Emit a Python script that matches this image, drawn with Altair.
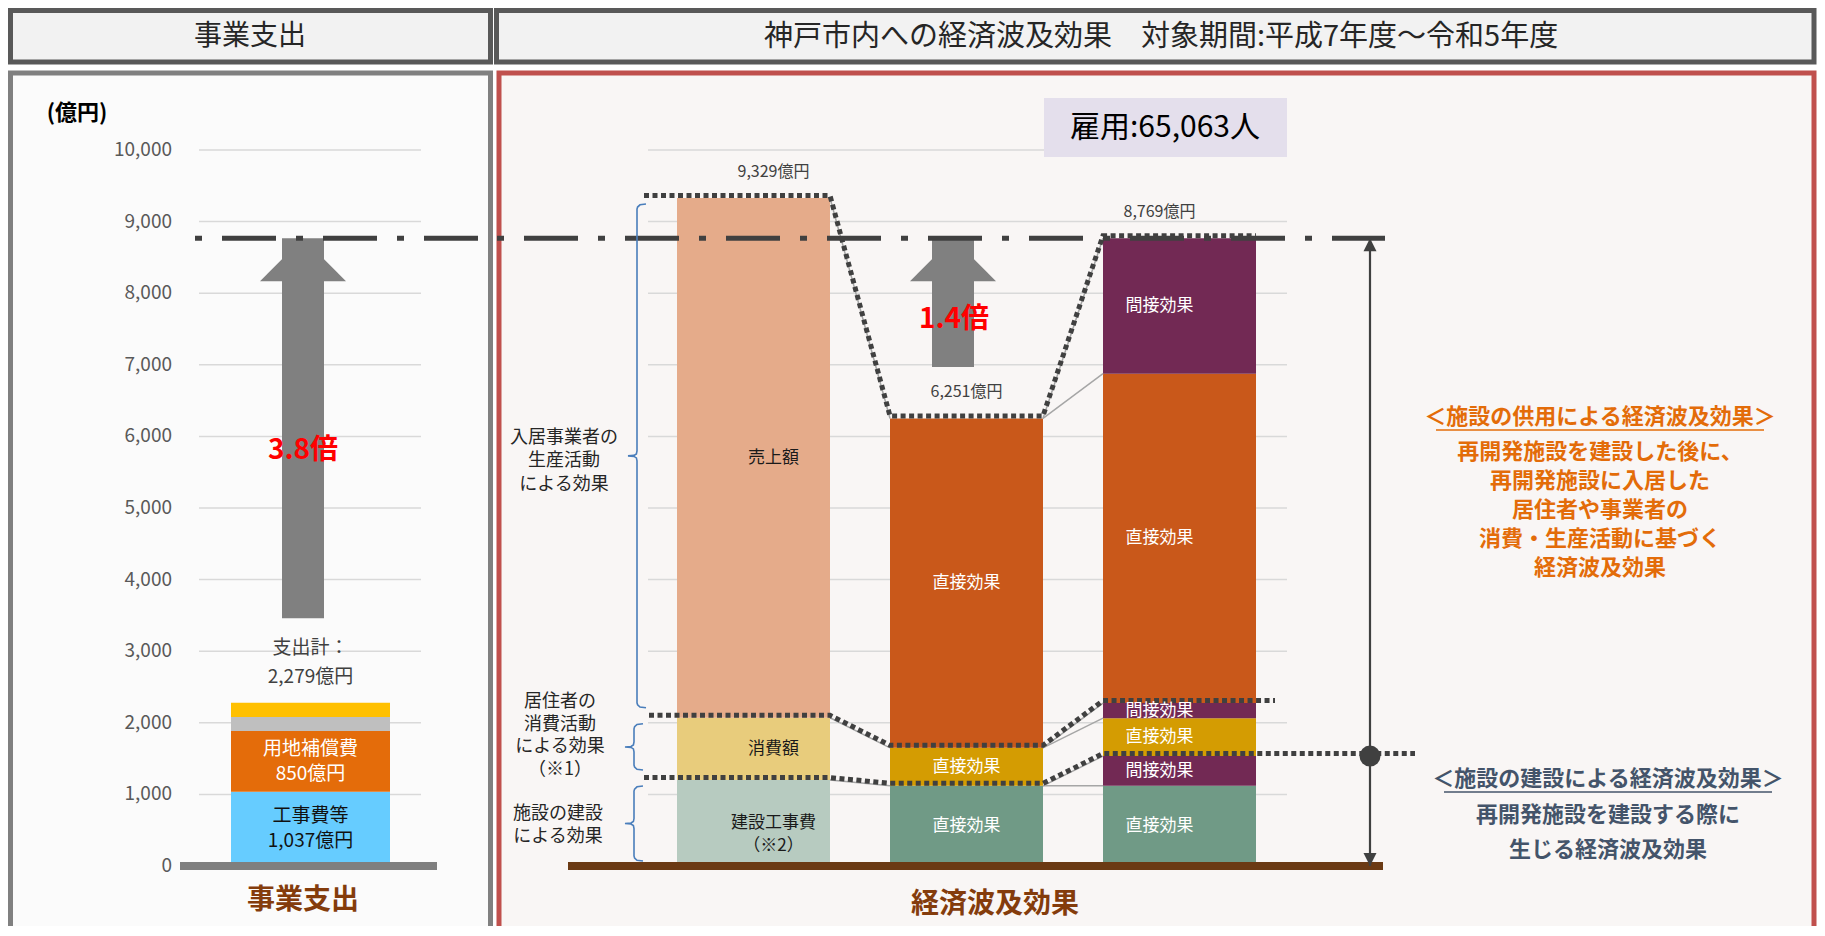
import altair as alt
import pandas as pd

FONT = "Noto Sans CJK JP"

# ------------------------------------------------------------------ data
y_ticks = [0, 1000, 2000, 3000, 4000, 5000, 6000, 7000, 8000, 9000, 10000]

left_category = ["事業支出"]
left_segments = ["工事費等", "用地補償費", "その他A", "その他B"]
left_values = [1037, 850, 194, 198]
left_colors = ["#66CCFF", "#E46C0A", "#BFBFBF", "#FFC000"]
left_labels = ["工事費等\n1,037億円", "用地補償費\n850億円", "", ""]
left_label_colors = ["#111111", "#FFFFFF", "#FFFFFF", "#FFFFFF"]
left_total_text = "支出計：\n2,279億円"

effect_categories = ["生産額", "直接効果", "直接効果＋間接効果"]
bar1_segments = ["建設工事費\n（※2）", "消費額", "売上額"]
bar1_values = [1200, 870, 7259]
bar1_colors = ["#B7CBC0", "#E8CC7C", "#E5AB8A"]
bar1_label_colors = ["#1A1A1A", "#1A1A1A", "#1A1A1A"]
bar2_segments = ["直接効果", "直接効果", "直接効果"]
bar2_values = [1120, 530, 4601]
bar2_colors = ["#709A86", "#D49C02", "#C9581A"]
bar2_label_colors = ["#FFFFFF", "#FFFFFF", "#FFFFFF"]
bar3_segments = ["直接効果", "間接効果", "直接効果", "間接効果", "直接効果", "間接効果"]
bar3_values = [1120, 415, 530, 210, 4601, 1893]
bar3_colors = ["#709A86", "#722954", "#D49C02", "#722954", "#C9581A", "#722954"]
bar3_label_colors = ["#FFFFFF"] * 6
total_labels = ["9,329億円", "6,251億円", "8,769億円"]

employment_text = "雇用:65,063人"
multiplier_texts = ["3.8倍", "1.4倍"]

# ------------------------------------------------------------------ layout helpers
X0, Y0 = 8, 8
W, H = 1809, 918
K = 0.0716             # px per 億円
ZERO_C = 866 - Y0      # chart y of value 0
YS = alt.Scale(domain=[-(H - ZERO_C) / K, ZERO_C / K], nice=False, zero=False)
XID = alt.Scale(domain=[0, W], range=[0, W], nice=False, zero=False)


def px(x):
    return x - X0


def py(y):
    return y - Y0


one = pd.DataFrame({"a": [1]})
layers = []


def box(x1, y1, x2, y2, fill, stroke=None, sw=0):
    kw = dict(fill=fill)
    if stroke:
        kw.update(stroke=stroke, strokeWidth=sw)
    return alt.Chart(one).mark_rect(**kw).encode(
        x=alt.value(px(x1)), x2=alt.value(px(x2)),
        y=alt.value(py(y1)), y2=alt.value(py(y2)))


def txt(text, x, y, size, color="#262626", weight="normal", align="center", lh=None):
    """y is the vertical centre of the whole text block."""
    lh = lh or size * 1.25
    n = text.count("\n") + 1
    y_first = y - (n - 1) / 2 * lh
    return alt.Chart(one).mark_text(
        text=text, font=FONT, fontSize=size, color=color, fontWeight=weight,
        align=align, baseline="middle", lineBreak="\n", lineHeight=lh
    ).encode(x=alt.value(px(x)), y=alt.value(py(y_first)))


def hrule(v, x1, x2, color, sw, dash=None):
    kw = dict(color=color, strokeWidth=sw, strokeCap="butt")
    if dash:
        kw["strokeDash"] = dash
    return alt.Chart(pd.DataFrame({"v": [v]})).mark_rule(**kw).encode(
        y=alt.Y("v:Q", scale=YS, axis=None),
        x=alt.value(px(x1)), x2=alt.value(px(x2)))


# ------------------------------------------------------------------ panels
layers.append(box(10.5, 73, 490.5, 990, "#FBFBFB", "#808080", 5))
layers.append(box(499, 73, 1814, 990, "#F9F6F5", "#C0504D", 5))
layers.append(box(10.5, 10.5, 490.5, 62, "#F2F2F2", "#595959", 5))
layers.append(box(496.5, 10.5, 1814, 62, "#F2F2F2", "#595959", 5))
layers.append(txt("事業支出", 250, 37, 28))
layers.append(txt("神戸市内への経済波及効果　対象期間:平成7年度～令和5年度", 1161, 37, 29))

# gridlines
grid_df = pd.DataFrame({"v": y_ticks[1:]})
for gx1, gx2 in [(199, 421), (648, 1287)]:
    layers.append(alt.Chart(grid_df).mark_rule(color="#D9D9D9", strokeWidth=1.5).encode(
        y=alt.Y("v:Q", scale=YS, axis=None), x=alt.value(px(gx1)), x2=alt.value(px(gx2))))

# y tick labels + unit
tick_df = pd.DataFrame({"v": y_ticks, "lab": [f"{t:,}" for t in y_ticks]})
layers.append(alt.Chart(tick_df).mark_text(
    align="right", baseline="middle", font=FONT, fontSize=19, color="#595959").encode(
    y=alt.Y("v:Q", scale=YS, axis=None), x=alt.value(px(172)), text="lab:N"))
layers.append(txt("(億円)", 77, 113, 22, "#000000", "bold"))

# employment box
layers.append(box(1044, 98, 1287, 157, "#E4DFEC"))
layers.append(txt(employment_text, 1165, 128, 30, "#000000"))

# ------------------------------------------------------------------ bars
LS = alt.Scale(domain=left_category, range=[px(231), px(390)], paddingInner=0, paddingOuter=0)
R0, R1, PI = 677, 1256, 0.2817
RS = alt.Scale(domain=effect_categories, range=[px(R0), px(R1)], paddingInner=PI, paddingOuter=0)
step = (R1 - R0) / (3 - PI)
bw = step * (1 - PI)
LE = [R0 + i * step for i in range(3)]
RE = [l + bw for l in LE]


def stack_rows(cat, names, vals, cols, lcols):
    rows, base = [], 0
    for n, v, c, lc in zip(names, vals, cols, lcols):
        rows.append(dict(cat=cat, y0=base, y1=base + v, mid=base + v / 2, color=c, label=n, lcolor=lc))
        base += v
    return rows


left_df = pd.DataFrame(stack_rows(left_category[0], left_labels, left_values, left_colors, left_label_colors))
right_df = pd.DataFrame(
    stack_rows(effect_categories[0], bar1_segments, bar1_values, bar1_colors, bar1_label_colors)
    + stack_rows(effect_categories[1], bar2_segments, bar2_values, bar2_colors, bar2_label_colors)
    + stack_rows(effect_categories[2], bar3_segments, bar3_values, bar3_colors, bar3_label_colors))

for df, sc in [(left_df, LS), (right_df, RS)]:
    layers.append(alt.Chart(df).mark_bar().encode(
        x=alt.X("cat:N", scale=sc, axis=None),
        y=alt.Y("y0:Q", scale=YS, axis=None), y2="y1:Q",
        color=alt.Color("color:N", scale=None)))


def cum(vals):
    out, s = [], 0
    for v in vals:
        s += v
        out.append(s)
    return out


c1, c2, c3 = cum(bar1_values), cum(bar2_values), cum(bar3_values)
left_total = sum(left_values)

# thin series lines
conn = [(RE[0], c1[2], LE[1], c2[2]), (RE[0], c1[1], LE[1], c2[1]), (RE[0], c1[0], LE[1], c2[0]),
        (RE[1], c2[0], LE[2], c3[0]), (RE[1], c2[0], LE[2], c3[1]), (RE[1], c2[1], LE[2], c3[2]),
        (RE[1], c2[1], LE[2], c3[3]), (RE[1], c2[2], LE[2], c3[4]), (RE[1], c2[2], LE[2], c3[5])]
conn_df = pd.DataFrame([dict(x=px(a), v=b, x2=px(c), v2=d) for a, b, c, d in conn])
layers.append(alt.Chart(conn_df).mark_rule(color="#A6A6A6", strokeWidth=1.5).encode(
    x=alt.X("x:Q", scale=XID, axis=None), x2="x2:Q",
    y=alt.Y("v:Q", scale=YS, axis=None), y2="v2:Q"))

# dotted outlines
up = 2.5 / K
lines = {
    "top": [(644, c1[2]), (RE[0], c1[2]), (LE[1], c2[2]), (RE[1], c2[2]), (LE[2], c3[5]), (RE[2], c3[5])],
    "mid": [(649, c1[1]), (RE[0], c1[1]), (LE[1], c2[1]), (RE[1], c2[1]), (LE[2], c3[3]), (1275, c3[3])],
    "low": [(644, c1[0]), (RE[0], c1[0]), (LE[1], c2[0]), (RE[1], c2[0]), (LE[2], c3[1]), (1415, c3[1])],
}
dot_rows = []
for name, pts in lines.items():
    for i, (x, v) in enumerate(pts):
        dot_rows.append(dict(line=name, o=i, x=px(x), v=v + up))
layers.append(alt.Chart(pd.DataFrame(dot_rows)).mark_line(
    color="#404040", strokeWidth=5, strokeDash=[5, 3.5], strokeCap="butt").encode(
    x=alt.X("x:Q", scale=XID, axis=None), y=alt.Y("v:Q", scale=YS, axis=None),
    detail="line:N", order="o:Q"))

# segment labels (left: two-line labels centred on the segment)
layers.append(alt.Chart(left_df).mark_text(
    font=FONT, fontSize=19, baseline="middle", lineBreak="\n", lineHeight=25, dy=-12.5).encode(
    x=alt.X("cat:N", scale=LS, axis=None),
    y=alt.Y("mid:Q", scale=YS, axis=None),
    text="label:N", color=alt.Color("lcolor:N", scale=None)))
layers.append(alt.Chart(right_df).mark_text(
    font=FONT, fontSize=17, baseline="middle", lineBreak="\n", lineHeight=23).encode(
    x=alt.X("cat:N", scale=RS, axis=None),
    y=alt.Y("mid:Q", scale=YS, axis=None),
    text="label:N", color=alt.Color("lcolor:N", scale=None)))

# totals
tot_df = pd.DataFrame({"cat": effect_categories, "v": [c1[-1], c2[-1], c3[-1]], "lab": total_labels})
layers.append(alt.Chart(tot_df).mark_text(font=FONT, fontSize=16, color="#404040", dy=-26).encode(
    x=alt.X("cat:N", scale=RS, axis=None), y=alt.Y("v:Q", scale=YS, axis=None), text="lab:N"))
ltot_df = pd.DataFrame({"cat": left_category, "v": [left_total], "lab": [left_total_text]})
layers.append(alt.Chart(ltot_df).mark_text(
    font=FONT, fontSize=19, color="#404040", dy=-55, lineBreak="\n", lineHeight=29).encode(
    x=alt.X("cat:N", scale=LS, axis=None), y=alt.Y("v:Q", scale=YS, axis=None), text="lab:N"))

# big gray arrows
arr_df = pd.DataFrame({"x": [px(303), px(953)], "y0": [3460, 6970], "tip": [c3[-1], c3[-1]]})
layers.append(alt.Chart(arr_df).mark_rule(color="#808080", strokeWidth=42, strokeCap="butt").encode(
    x=alt.X("x:Q", scale=XID, axis=None), y=alt.Y("y0:Q", scale=YS, axis=None),
    y2=alt.Y2("tip:Q")))
layers.append(alt.Chart(arr_df).mark_point(
    shape="M-1,1L1,1L0,0Z", size=86 * 86, filled=True, color="#808080", opacity=1, strokeWidth=0).encode(
    x=alt.X("x:Q", scale=XID, axis=None), y=alt.Y("tip:Q", scale=YS, axis=None)))
layers.append(txt(multiplier_texts[0], 303, 451, 28, "#FF0000", "bold"))
layers.append(txt(multiplier_texts[1], 954, 320, 28, "#FF0000", "bold"))

# dash-dot reference line at total effect
layers.append(hrule(c3[-1], 195, 478, "#404040", 5, [7, 20, 54, 20]))
layers.append(hrule(c3[-1], 497, 1385, "#404040", 5, [7, 20, 54, 20]))

# baselines
layers.append(hrule(0, 180, 437, "#7F7F7F", 8))
layers.append(hrule(0, 568, 1383, "#6B3A14", 8))

# braces
d = 5 / K
brace_specs = [(637, c1[2] - 6 / K, c1[1] + 10 / K), (634, c1[1] - 6 / K, c1[0] + 10 / K),
               (634, c1[0] - 6 / K, 0 + 5 / K)]
brace_rows = []
for bi, (bx, t, b) in enumerate(brace_specs):
    m = (t + b) / 2
    pts = [(bx + 9, t), (bx + 3, t - 0.15 * d), (bx + 0.6, t - 0.6 * d), (bx, t - d),
           (bx, m + d), (bx - 0.6, m + 0.4 * d), (bx - 3, m + 0.1 * d), (bx - 9, m),
           (bx - 3, m - 0.1 * d), (bx - 0.6, m - 0.4 * d), (bx, m - d),
           (bx, b + d), (bx + 0.6, b + 0.6 * d), (bx + 3, b + 0.15 * d), (bx + 9, b)]
    for i, (x, v) in enumerate(pts):
        brace_rows.append(dict(g=bi, o=i, x=px(x), v=v))
layers.append(alt.Chart(pd.DataFrame(brace_rows)).mark_line(color="#4A7EBB", strokeWidth=1.6).encode(
    x=alt.X("x:Q", scale=XID, axis=None), y=alt.Y("v:Q", scale=YS, axis=None),
    detail="g:N", order="o:Q"))

layers.append(txt("入居事業者の\n生産活動\nによる効果", 564, 461, 18, lh=23.5))
layers.append(txt("居住者の\n消費活動\nによる効果\n（※1）", 560, 736, 18, lh=22.5))
layers.append(txt("施設の建設\nによる効果", 558, 825, 18, lh=23))

# vertical double arrow and marker
va_df = pd.DataFrame({"x": [px(1370)], "top": [c3[-1]], "bot": [0], "mk": [c3[1]]})
layers.append(alt.Chart(va_df).mark_rule(color="#404040", strokeWidth=2.2).encode(
    x=alt.X("x:Q", scale=XID, axis=None), y=alt.Y("top:Q", scale=YS, axis=None), y2="bot:Q"))
layers.append(alt.Chart(va_df).mark_point(
    shape="M-1,2L1,2L0,0Z", size=169, filled=True, color="#404040", opacity=1, strokeWidth=0).encode(
    x=alt.X("x:Q", scale=XID, axis=None), y=alt.Y("top:Q", scale=YS, axis=None)))
layers.append(alt.Chart(va_df).mark_point(
    shape="M-1,-2L1,-2L0,0Z", size=169, filled=True, color="#404040", opacity=1, strokeWidth=0).encode(
    x=alt.X("x:Q", scale=XID, axis=None), y=alt.Y("bot:Q", scale=YS, axis=None)))
layers.append(alt.Chart(va_df).mark_point(
    shape="circle", size=441, filled=True, color="#404040", opacity=1, strokeWidth=0).encode(
    x=alt.X("x:Q", scale=XID, axis=None), y=alt.Y("mk:Q", scale=YS, axis=None)))

# right-hand notes
ORANGE = "#E36C09"
BLUE = "#44546A"
NS = 22
layers.append(txt("＜施設の供用による経済波及効果＞", 1600, 417, NS, ORANGE, "bold"))
for s, yy in [("再開発施設を建設した後に、", 452), ("再開発施設に入居した", 481),
              ("居住者や事業者の", 510), ("消費・生産活動に基づく", 539), ("経済波及効果", 568)]:
    layers.append(txt(s, 1600, yy, NS, ORANGE, "bold"))
layers.append(alt.Chart(one).mark_rule(color=ORANGE, strokeWidth=1.5).encode(
    x=alt.value(px(1436)), x2=alt.value(px(1764)), y=alt.value(py(430))))
layers.append(txt("＜施設の建設による経済波及効果＞", 1608, 779, NS, BLUE, "bold"))
for s, yy in [("再開発施設を建設する際に", 815), ("生じる経済波及効果", 850)]:
    layers.append(txt(s, 1608, yy, NS, BLUE, "bold"))
layers.append(alt.Chart(one).mark_rule(color=BLUE, strokeWidth=1.5).encode(
    x=alt.value(px(1444)), x2=alt.value(px(1772)), y=alt.value(py(792))))

# bottom category titles
layers.append(txt("事業支出", 303, 901, 28, "#843C0C", "bold"))
layers.append(txt("経済波及効果", 995, 905, 28, "#843C0C", "bold"))

chart = alt.layer(*layers).resolve_scale(x="independent").properties(
    width=W, height=H, padding=0, autosize=alt.AutoSizeParams(type="none"),
    background="#FFFFFF"
).configure_view(stroke=None)

chart.save("out.html", embed_options={"renderer": "svg", "actions": False})
